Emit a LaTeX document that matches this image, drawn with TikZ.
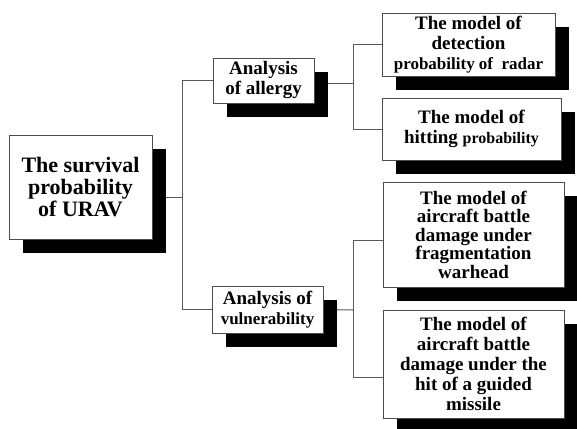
\documentclass[tikz,border=0pt]{standalone}
\usepackage{fontspec}
\setmainfont{Liberation Serif}
\usetikzlibrary{shadows,backgrounds}
\begin{document}
\begin{tikzpicture}[x=1pt,y=-1pt,
  box/.style={draw=black!70, line width=0.9pt, fill=white, align=center,
    inner sep=0pt, font=\bfseries\fontsize{19}{20}\selectfont,
    drop shadow={shadow xshift=14pt, shadow yshift=-14pt, opacity=1, fill=black}},
  conn/.style={draw=black!65, line width=1pt}]
\useasboundingbox (0,0) rectangle (577,428);

\node[box, minimum width=143pt, minimum height=104pt,
  font=\bfseries\fontsize{22}{22}\selectfont] (main) at (80.5,187)
  {The survival\\probability\\of URAV};
\node[box, minimum width=101pt, minimum height=45pt] (allergy) at (263.5,80.5)
  {Analysis\\of allergy};
\node[box, minimum width=111pt, minimum height=47pt] (vul) at (267.5,309.5)
  {Analysis of\\{\fontsize{17}{19}\selectfont vulnerability}};
\node[box, minimum width=173pt, minimum height=63pt] (radar) at (468.5,44.5)
  {The model of\\detection\\{\fontsize{17}{19}\selectfont probability of\ \ radar}};
\node[box, minimum width=179pt, minimum height=62pt] (hit) at (471.5,129)
  {The model of\\hitting {\fontsize{16}{18}\selectfont probability}};
\node[box, minimum width=181pt, minimum height=105pt,
  font=\bfseries\fontsize{19}{18.5}\selectfont] (frag) at (473.5,234.5)
  {The model of\\aircraft battle\\damage under\\fragmentation\\warhead};
\node[box, minimum width=181pt, minimum height=108pt] (missile) at (473.5,364)
  {The model of\\aircraft battle\\damage under the\\hit of a guided\\missile};

\coordinate (jA) at (182,197);
\coordinate (jB) at (353,83);
\coordinate (jC) at (353,310);
\coordinate (fC) at (353,240);
\coordinate (mC) at (353,377);

\begin{scope}[on background layer]
  \draw[conn] (main.east |- jA) -- (jA);
  \draw[conn] (allergy.west) -| (jA);
  \draw[conn] (vul.west) -| (jA);
  \draw[conn] (allergy.east |- jB) -- (jB);
  \draw[conn] (radar.west) -| (jB);
  \draw[conn] (hit.west) -| (jB);
  \draw[conn] (vul.east) -- (jC);
  \draw[conn] (frag.west |- fC) -- (fC) -- (jC);
  \draw[conn] (missile.west |- mC) -- (mC) -- (jC);
\end{scope}
\end{tikzpicture}
\end{document}
